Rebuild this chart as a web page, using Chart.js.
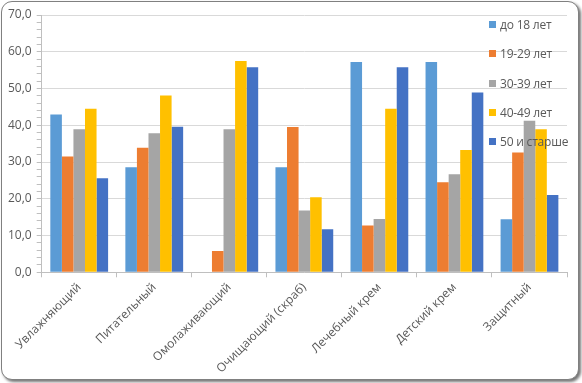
<!DOCTYPE html>
<html>
<head>
<meta charset="utf-8">
<script src="https://cdn.jsdelivr.net/npm/chart.js@4"></script>
<style>
  body { margin: 0; background: #fff; }
  #frame {
    position: absolute; left: 1px; top: 1px; width: 576px; height: 377px;
    border: 1.5px solid #808080; border-radius: 11px;
    box-shadow: 2px 2px 3px rgba(0,0,0,0.55); background: #fff;
  }
  #wrap { position: absolute; left: 0; top: 0; width: 582px; height: 383px; }
  #legend {
    position: absolute; left: 489px; top: 17px;
    font-family: "Open Sans", sans-serif; font-size: 12px; color: #595959;
  }
  #legend div { height: 29.3px; line-height: 16px; white-space: nowrap; letter-spacing: -0.2px; }
  #legend span.box {
    display: inline-block; width: 7px; height: 7px; margin-right: 4px; vertical-align: 1px;
  }
</style>
</head>
<body>
<div id="frame"></div>
<div id="wrap"><canvas id="chart"></canvas></div>
<div id="legend"></div>
<script>
// данные
const categories = ['Увлажняющий', 'Питательный', 'Омолаживающий', 'Очищающий (скраб)', 'Лечебный крем', 'Детский крем', 'Защитный'];
const seriesNames = ['до 18 лет', '19-29 лет', '30-39 лет', '40-49 лет', '50 и старше'];
const under18 = [42.9, 28.6, 0, 28.6, 57.2, 57.2, 14.4];
const age19to29 = [31.5, 33.9, 5.8, 39.5, 12.7, 24.5, 32.6];
const age30to39 = [38.9, 37.8, 38.9, 16.8, 14.5, 26.7, 41.2];
const age40to49 = [44.5, 48.1, 57.5, 20.4, 44.5, 33.3, 38.9];
const age50plus = [25.6, 39.6, 55.8, 11.7, 55.8, 48.9, 21.0];
const colors = ['#5B9BD5', '#ED7D31', '#A5A5A5', '#FFC000', '#4472C4'];

const seriesValues = [under18, age19to29, age30to39, age40to49, age50plus];

const legend = document.getElementById('legend');
seriesNames.forEach((name, i) => {
    const row = document.createElement('div');
    const box = document.createElement('span');
    box.className = 'box';
    box.style.background = colors[i];
    row.appendChild(box);
    row.appendChild(document.createTextNode(name));
    legend.appendChild(row);
});

const font = { family: '"Open Sans", sans-serif', size: 12 };

new Chart(document.getElementById('chart'), {
    type: 'bar',
    data: {
        labels: categories,
        datasets: seriesNames.map((name, i) => ({
            label: name,
            data: seriesValues[i],
            backgroundColor: colors[i],
            borderWidth: 0,
            categoryPercentage: 0.77,
            barPercentage: 1.0
        }))
    },
    options: {
        responsive: true,
        maintainAspectRatio: false,
        animation: false,
        layout: { padding: { left: 3, top: 15, right: 15, bottom: 4 } },
        plugins: { legend: { display: false }, tooltip: { enabled: false } },
        scales: {
            x: {
                offset: true,
                grid: {
                    offset: true,
                    drawOnChartArea: false,
                    tickColor: '#bfbfbf',
                    tickLength: 5
                },
                border: { color: '#bfbfbf' },
                ticks: {
                    color: '#595959',
                    font: font,
                    maxRotation: 45,
                    minRotation: 45,
                    autoSkip: false
                }
            },
            y: {
                min: 0,
                max: 70,
                grid: {
                    color: (c) => (c.tick && c.tick.value % 10 === 0 ? '#d9d9d9' : 'rgba(0,0,0,0)'),
                    tickColor: '#bfbfbf',
                    tickLength: 5
                },
                border: { color: '#bfbfbf' },
                ticks: {
                    stepSize: 2,
                    autoSkip: false,
                    color: '#595959',
                    font: font,
                    padding: 5,
                    callback: (v) => (v % 10 === 0 ? v.toFixed(1).replace('.', ',') : '')
                }
            }
        }
    }
});
</script>
</body>
</html>
